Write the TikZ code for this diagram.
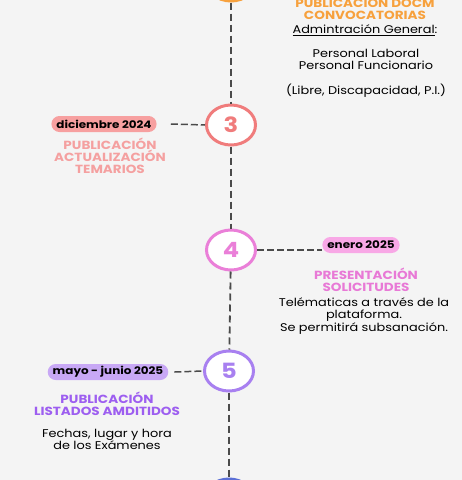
\documentclass[tikz,border=0pt]{standalone}
\usepackage{fontspec}
\setmainfont[FakeStretch=1.15]{Poppins}
\usetikzlibrary{shapes.geometric}

\definecolor{fondo}{HTML}{F4F4F4}
\definecolor{linea}{HTML}{4A4A4A}
\definecolor{naranja}{HTML}{F7A13D}
\definecolor{salmon}{HTML}{F07C7C}
\definecolor{salmonclaro}{HTML}{F7A0A0}
\definecolor{salmontexto}{HTML}{F4A0A0}
\definecolor{rosa}{HTML}{EA7FD8}
\definecolor{rosaclaro}{HTML}{F8A8E6}
\definecolor{rosatexto}{HTML}{E879D6}
\definecolor{lila}{HTML}{A880F0}
\definecolor{lilaclaro}{HTML}{C8A8F5}
\definecolor{lilatexto}{HTML}{9D5EF0}
\definecolor{azul}{HTML}{5B6FD6}

\begin{document}
\begin{tikzpicture}[x=1pt,y=-1pt]
\tikzset{paso/.style = {shape=ellipse,draw=#1,line width=3pt,fill=white,
  minimum width=49pt,minimum height=40pt,inner sep=0pt,text=#1,
  font=\fontsize{21}{21}\selectfont\bfseries}}
\tikzset{pill/.style = {fill=#1,rounded corners=8pt,minimum height=16pt,
  inner xsep=5pt,inner ysep=0pt,font=\fontsize{10.4}{10.4}\selectfont\bfseries}}
\tikzset{titulo/.style = {text=#1,align=center,inner sep=0pt,
  font=\fontsize{11.8}{11.8}\selectfont\bfseries}}
\tikzset{cuerpo/.style = {align=center,inner sep=0pt,
  font=\fontsize{11.2}{12.6}\selectfont}}
\tikzset{eje/.style = {draw=linea,line width=1.8pt,dash pattern=on 7pt off 4pt}}
\tikzset{conector/.style = {draw=linea,line width=1.5pt,dash pattern=on 7pt off 3pt}}

\useasboundingbox[fill=fondo] (0,0) rectangle (462,480);

% linea de tiempo
\node[paso=naranja] (c2) at (231,-19) {};
\node[paso=salmon] (c3) at (231,125) {3};
\node[paso=rosa] (c4) at (231,250) {4};
\node[paso=lila] (c5) at (229,371) {5};
\node[paso=azul] (c6) at (229,499) {};

\draw[eje] (c2) -- (c3);
\draw[eje] (c3) -- (c4);
\draw[eje] (c4) -- (c5);
\draw[eje] (c5) -- (c6);

% fechas
\node[pill=salmonclaro] (f3) at (104,124) {diciembre 2024};
\node[pill=rosaclaro] (f4) at (361,245) {enero 2025};
\node[pill=lilaclaro] (f5) at (108,372) {mayo - junio 2025};

% textos
\node[titulo=naranja] (t2) at (365,8) {PUBLICACIÓN DOCM\\CONVOCATORIAS};
\node[cuerpo] (b2a) at (365,30) {\underline{Admintración General}:};
\node[cuerpo] (b2b) at (366,59.5) {Personal Laboral\\Personal Funcionario};
\node[cuerpo] (b2c) at (366,91) {(Libre, Discapacidad, P.I.)};

\node[titulo=salmontexto] (t3) at (110,156) {PUBLICACIÓN\\ACTUALIZACIÓN\\TEMARIOS};

\node[titulo=rosatexto] (t4) at (366,280) {PRESENTACIÓN\\SOLICITUDES};
\node[cuerpo] (b4) at (364,316) {Telématicas a través de la\\plataforma.\\Se permitirá subsanación.};

\node[titulo=lilatexto] (t5) at (107,404) {PUBLICACIÓN\\LISTADOS AMDITIDOS};
\node[cuerpo] (b5) at (107,439.5) {Fechas, lugar y hora\\de los Exámenes};

% conectores
\draw[conector] (f3.east) ++(14,0) -- (c3.west);
\draw[conector] (c4.east) -- (c4.east -| f4.west);
\draw[conector] (f5.east) ++(6,0) -- (c5.west);
\end{tikzpicture}
\end{document}
